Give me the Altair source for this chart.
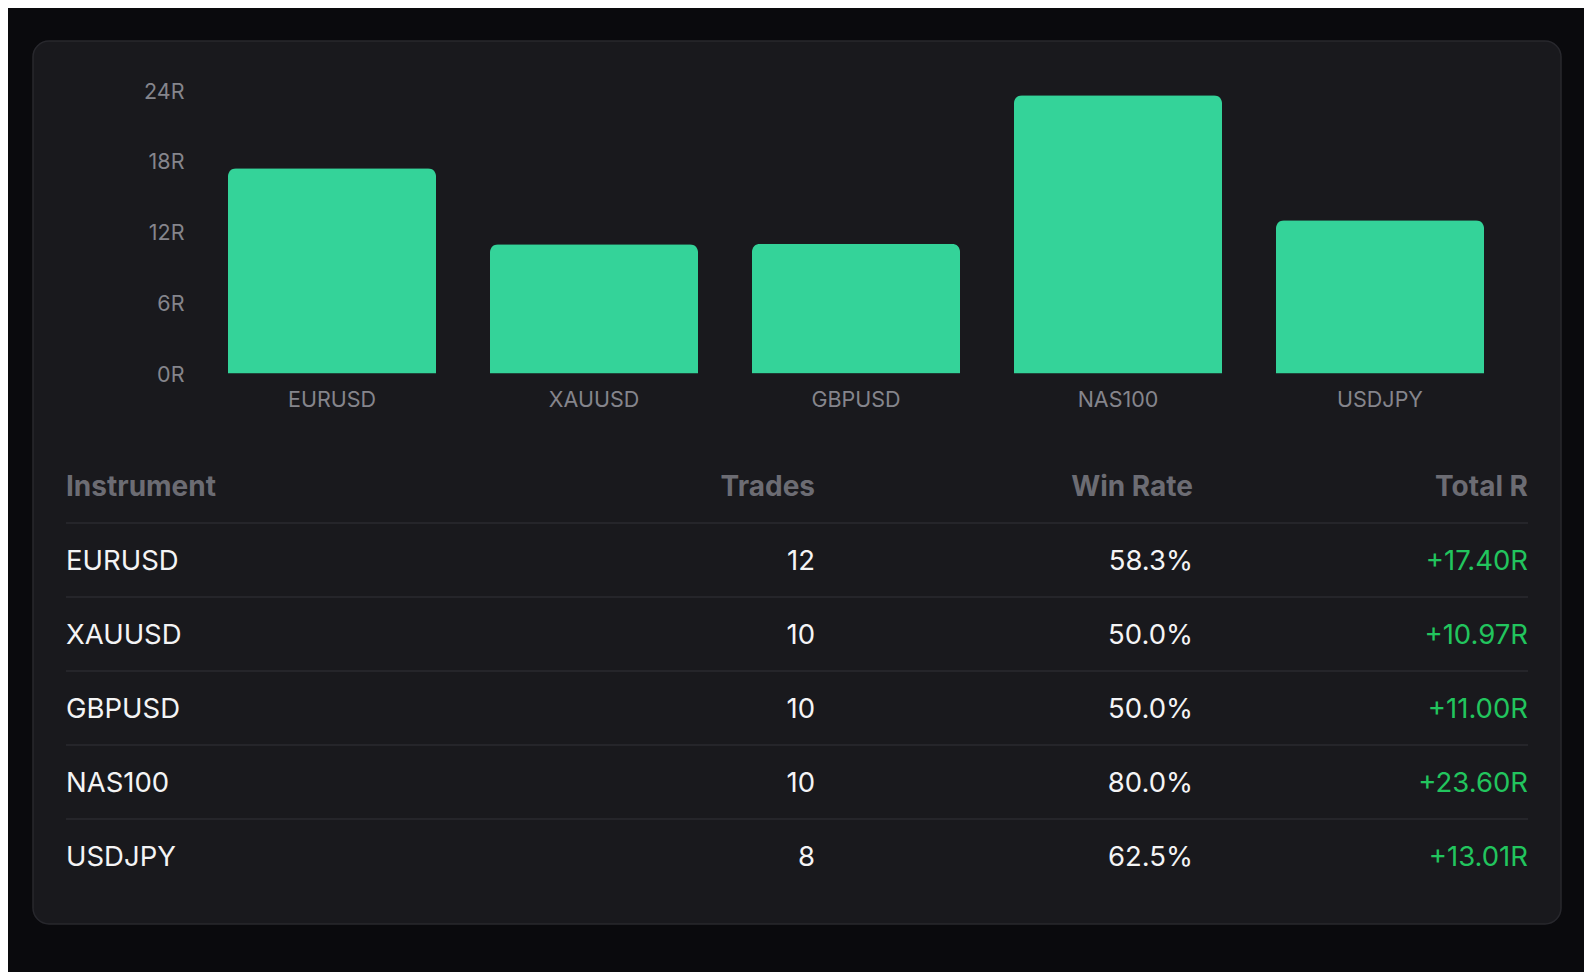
import altair as alt
import pandas as pd

# ---------------- data ----------------
instruments = ["EURUSD", "XAUUSD", "GBPUSD", "NAS100", "USDJPY"]
trades = [12, 10, 10, 10, 8]
win_rates = [58.3, 50.0, 50.0, 80.0, 62.5]
total_r = [17.40, 10.97, 11.00, 23.60, 13.01]
y_ticks = [0, 6, 12, 18, 24]
headers = ["Instrument", "Trades", "Win Rate", "Total R"]

# ---------------- style ----------------
PAGE_BG = "#0a0a0d"
CARD_BG = "#19191d"
CARD_STROKE = "#28282d"
BAR = "#34d399"
AXIS_TXT = "#85858c"
HEAD_TXT = "#6c6c73"
BODY_TXT = "#f4f4f5"
GREEN = "#22c55e"
SEP = "#2a2a2f"
FONT = "Inter"

CARD_W, CARD_H = 1528, 883

bars_df = pd.DataFrame({"instrument": instruments, "total_r": total_r})

bars = alt.Chart(bars_df).mark_bar(
    color=BAR, cornerRadiusTopLeft=8, cornerRadiusTopRight=8
).encode(
    x=alt.X("instrument:N", sort=instruments, title=None,
            scale=alt.Scale(range=[168, 1478], paddingInner=0.206, paddingOuter=0.103),
            axis=alt.Axis(orient="bottom", domain=False, ticks=False, tickSize=0,
                          labelPadding=0, labelBaseline="middle", offset=-524,
                          labelColor=AXIS_TXT, labelFont=FONT, labelFontSize=21.5,
                          labelAngle=0, grid=False)),
    y=alt.Y("total_r:Q", title=None,
            scale=alt.Scale(domain=[0, 24], range=[332.6, 49.5], nice=False, zero=True),
            axis=alt.Axis(values=y_ticks, domain=False, ticks=False, tickSize=0,
                          labelPadding=0, offset=-151, grid=False, labelOffset=1.5,
                          labelExpr="datum.value + 'R'",
                          labelColor=AXIS_TXT, labelFont=FONT, labelFontSize=21.5)),
)

# ---------------- table ----------------
row_scale = alt.Scale(domain=[0, 5], range=[445, 815])

header_df = pd.DataFrame({"row": [0] * len(headers), "label": headers})
cols = [
    ("Instrument", "left", 33, instruments, BODY_TXT),
    ("Trades", "right", 782, [str(t) for t in trades], BODY_TXT),
    ("Win Rate", "right", 1160, [f"{w:.1f}%" for w in win_rates], BODY_TXT),
    ("Total R", "right", 1495, [f"+{r:.2f}R" for r in total_r], GREEN),
]

table_layers = []
for name, align, xpos, vals, color in cols:
    h = alt.Chart(header_df).transform_filter(
        alt.datum.label == name
    ).mark_text(
        align=align, baseline="middle", font=FONT, fontSize=28, dy=2,
        fontWeight=700, color=HEAD_TXT
    ).encode(
        x=alt.value(xpos),
        y=alt.Y("row:Q", scale=row_scale, axis=None),
        text="label:N",
    )
    body_df = pd.DataFrame({"row": list(range(1, len(vals) + 1)), "txt": vals})
    b = alt.Chart(body_df).mark_text(
        align=align, baseline="middle", font=FONT, fontSize=27.5, dy=2,
        fontWeight=400, color=color
    ).encode(
        x=alt.value(xpos),
        y=alt.Y("row:Q", scale=row_scale, axis=None),
        text="txt:N",
    )
    table_layers += [h, b]

sep_df = pd.DataFrame({"row": [i + 0.5 for i in range(len(instruments))]})
seps = alt.Chart(sep_df).mark_rule(color=SEP, strokeWidth=1.5).encode(
    x=alt.value(33), x2=alt.value(1495),
    y=alt.Y("row:Q", scale=row_scale, axis=None),
)

table = alt.layer(seps, *table_layers)

chart = alt.layer(bars, table).resolve_scale(
    x="independent", y="independent"
).properties(
    width=CARD_W, height=CARD_H,
    autosize=alt.AutoSizeParams(type="none"),
    padding={"left": 25, "top": 33, "right": 23, "bottom": 48},
    background=PAGE_BG,
).configure_view(
    fill=CARD_BG, stroke=CARD_STROKE, strokeWidth=1.5, cornerRadius=16
)

chart.save("out.html", embed_options={"renderer": "svg", "actions": False})
